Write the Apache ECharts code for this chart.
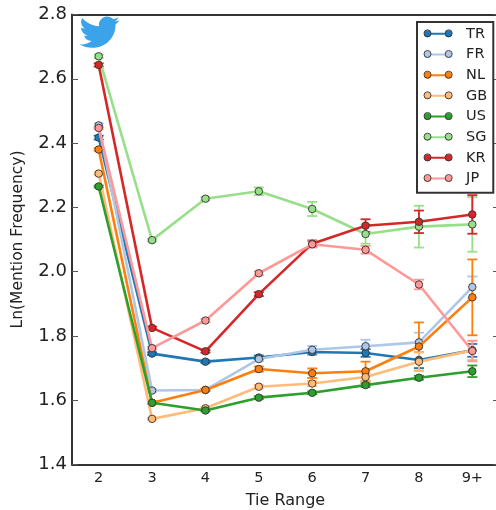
<!DOCTYPE html>
<html><head><meta charset="utf-8">
<style>html,body{margin:0;padding:0;background:#fff;overflow:hidden}#c{width:496px;height:510px;filter:blur(0.4px)}</style>
<script src="https://cdn.jsdelivr.net/npm/echarts@6/dist/echarts.min.js"></script>
</head><body><div id="c"></div>
<script>
const categories = ['2','3','4','5','6','7','8','9+'];
const names = ['TR','FR','NL','GB','US','SG','KR','JP'];
const colors = ['#1f77b4','#aec7e8','#ff7f0e','#ffbb78','#2ca02c','#98df8a','#d62728','#ff9896'];
const TR = [2.417,1.745,1.720,1.733,1.750,1.747,1.725,1.755];
const FR = [2.455,1.630,1.632,1.728,1.757,1.768,1.780,1.952];
const NL = [2.380,1.592,1.632,1.697,1.684,1.690,1.767,1.920];
const GB = [2.305,1.542,1.575,1.642,1.652,1.672,1.720,1.755];
const US = [2.265,1.592,1.568,1.608,1.623,1.647,1.670,1.690];
const SG = [2.670,2.098,2.227,2.250,2.195,2.117,2.140,2.147];
const KR = [2.643,1.825,1.752,1.930,2.087,2.143,2.155,2.178];
const JP = [2.447,1.762,1.848,1.995,2.085,2.068,1.960,1.753];
const errTR = [0.006,0.004,0.004,0.006,0.008,0.012,0.025,0.020];
const errFR = [0.006,0.004,0.004,0.006,0.012,0.020,0.030,0.033];
const errNL = [0.004,0.004,0.004,0.008,0.015,0.030,0.075,0.118];
const errGB = [0.004,0.003,0.004,0.005,0.008,0.010,0.028,0.030];
const errUS = [0.003,0.003,0.003,0.004,0.004,0.006,0.006,0.018];
const errSG = [0.005,0.004,0.005,0.012,0.022,0.030,0.065,0.085];
const errKR = [0.005,0.004,0.004,0.006,0.010,0.020,0.035,0.060];
const errJP = [0.004,0.004,0.005,0.006,0.010,0.012,0.015,0.032];
const values = [TR,FR,NL,GB,US,SG,KR,JP];
const errors = [errTR,errFR,errNL,errGB,errUS,errSG,errKR,errJP];
const FONT = '"DejaVu Sans"';
const TWITTER = 'M23.953 4.57a10 10 0 0 1-2.825.775 4.958 4.958 0 0 0 2.163-2.723c-.951.555-2.005.959-3.127 1.184a4.92 4.92 0 0 0-8.384 4.482C7.69 8.095 4.067 6.13 1.64 3.162a4.822 4.822 0 0 0-.666 2.475c0 1.71.87 3.213 2.188 4.096a4.904 4.904 0 0 1-2.228-.616v.06a4.923 4.923 0 0 0 3.946 4.827 4.996 4.996 0 0 1-2.212.085 4.936 4.936 0 0 0 4.604 3.417 9.867 9.867 0 0 1-6.102 2.105c-.39 0-.779-.023-1.17-.067a13.995 13.995 0 0 0 7.557 2.209c9.053 0 13.998-7.496 13.998-13.985 0-.21 0-.42-.015-.63A9.935 9.935 0 0 0 24 4.59z';
const ICON = 'path://M0 6A3 3 0 1 1 6 6A3 3 0 1 1 0 6ZM6 5.15H18V6.85H6ZM18 6A3 3 0 1 1 24 6A3 3 0 1 1 18 6Z';
echarts.graphic.registerShape('twitterBird', echarts.graphic.extendPath(TWITTER,{}));

const series = [];
names.forEach((n,i)=>{
  series.push({
    type:'custom', name:n+' error', z:2+i, silent:true, clip:false,
    encode:{x:0,y:[1,2]},
    data: values[i].map((v,k)=>[k,v-errors[i][k],v+errors[i][k]]),
    renderItem(params,api){
      const a=api.coord([api.value(0),api.value(1)]);
      const b=api.coord([api.value(0),api.value(2)]);
      const s={stroke:colors[i],lineWidth:1.8,fill:null};
      return {type:'group',children:[
        {type:'line',shape:{x1:a[0],y1:a[1],x2:b[0],y2:b[1]},style:s},
        {type:'line',shape:{x1:a[0]-5,y1:a[1],x2:a[0]+5,y2:a[1]},style:s},
        {type:'line',shape:{x1:b[0]-5,y1:b[1],x2:b[0]+5,y2:b[1]},style:s}
      ]};
    }
  });
});
names.forEach((n,i)=>{
  series.push({
    type:'line', name:n, data:values[i], z:20+i,
    symbol:'circle', symbolSize:7.5, showSymbol:true, clip:false,
    lineStyle:{color:colors[i],width:2.6},
    itemStyle:{color:colors[i],borderColor:'#333',borderWidth:0.9,opacity:1},
    emphasis:{disabled:true}
  });
});

const legendRings = [];
names.forEach((n,i)=>{
  [427.5,448.7].forEach(cx=>legendRings.push({
    type:'circle', z:200, silent:true,
    shape:{cx:cx,cy:33.3+20.67*i,r:3.5},
    style:{fill:'transparent',stroke:'#333',lineWidth:0.9}
  }));
});

const chart = echarts.init(document.getElementById('c'),null,{renderer:'canvas'});
chart.setOption({
  animation:false,
  backgroundColor:'#fff',
  grid:{left:72,top:14.5,width:427,height:450,containLabel:false,outerBoundsMode:'none'},
  legend:{
    left:417, top:22, orient:'vertical', padding:[4.3,6,6.7,7], itemGap:5.67,
    itemWidth:28.2, itemHeight:7, icon:ICON,
    backgroundColor:'#fff', borderColor:'#333', borderWidth:2, borderRadius:0,
    data:names, selectedMode:false, z:100,
    textStyle:{fontFamily:FONT,fontSize:14.5,lineHeight:14,height:14,color:'#222',padding:[0,0,0,9]},
    itemStyle:{borderWidth:0}
  },
  xAxis:[{
    type:'category', data:categories, position:'bottom',
    boundaryGap:true,
    name:'Tie Range', nameLocation:'middle', nameGap:28,
    nameTextStyle:{fontFamily:FONT,fontSize:16,color:'#222'},
    axisLine:{lineStyle:{color:'#333',width:2}},
    axisTick:{inside:true,alignWithLabel:true,length:6,lineStyle:{color:'#555',width:1}},
    axisLabel:{fontFamily:FONT,fontSize:14.5,color:'#222',margin:6},
    splitLine:{show:false}
  },{
    type:'category', data:categories, position:'top', boundaryGap:true,
    axisLine:{lineStyle:{color:'#333',width:2}},
    axisTick:{inside:true,alignWithLabel:true,length:6,lineStyle:{color:'#555',width:1}},
    axisLabel:{show:false}, splitLine:{show:false}
  }],
  yAxis:[{
    type:'value', min:1.4, max:2.8, interval:0.2, position:'left',
    name:'Ln(Mention Frequency)', nameLocation:'middle', nameGap:46, nameRotate:90,
    nameTextStyle:{fontFamily:FONT,fontSize:15.5,color:'#222'},
    axisLine:{show:true,lineStyle:{color:'#333',width:2}},
    axisTick:{show:true,inside:true,length:6,lineStyle:{color:'#555',width:1}},
    axisLabel:{fontFamily:FONT,fontSize:18,color:'#222',margin:5,formatter:v=>v.toFixed(1)},
    splitLine:{show:false}
  },{
    type:'value', min:1.4, max:2.8, interval:0.2, position:'right',
    axisLine:{show:true,lineStyle:{color:'#333',width:2}},
    axisTick:{show:true,inside:true,length:6,lineStyle:{color:'#555',width:1}},
    axisLabel:{show:false}, splitLine:{show:false}
  }],
  graphic:[{
    type:'twitterBird', z:150, silent:true, x:79.5, y:13, scaleX:1.67, scaleY:1.6,
    style:{fill:'#3aa3e9'}
  }].concat(legendRings),
  series:series
});
</script></body></html>
